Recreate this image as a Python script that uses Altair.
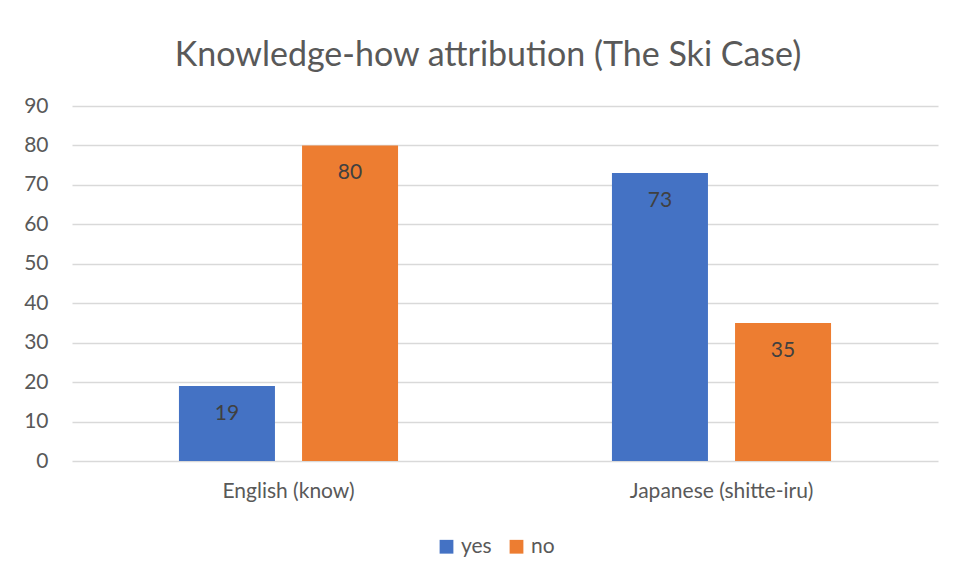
import altair as alt
import pandas as pd

categories = ["English (know)", "Japanese (shitte-iru)"]
answers = ["yes", "no"]
yes_values = [19, 73]
no_values = [80, 35]
y_ticks = [0, 10, 20, 30, 40, 50, 60, 70, 80, 90]

rows = []
for c, y, n in zip(categories, yes_values, no_values):
    rows.append({"lang": c, "answer": "yes", "value": y})
    rows.append({"lang": c, "answer": "no", "value": n})
df = pd.DataFrame(rows)

FONT = "Lato"
FS = 21

x = alt.X("lang:N", sort=categories, title=None,
          scale=alt.Scale(paddingInner=0.494, paddingOuter=0.247),
          axis=alt.Axis(labelAngle=0, ticks=False, domain=False, grid=False,
                        labelPadding=19, labelLimit=0,
                        labelFontSize=FS, labelColor="#595959", labelFont=FONT))
xo = alt.XOffset("answer:N", sort=answers,
                 scale=alt.Scale(paddingInner=0.22, paddingOuter=0))
y = alt.Y("value:Q", title=None,
          scale=alt.Scale(domain=[0, 90], nice=False),
          axis=alt.Axis(values=y_ticks, ticks=False, domain=False, labelPadding=24,
                        labelOverlap=False,
                        labelFontSize=FS, labelColor="#595959", labelFont=FONT,
                        gridColor="#d9d9d9", gridWidth=1.3))

bars = alt.Chart(df).mark_bar().encode(
    x=x, xOffset=xo, y=y,
    color=alt.Color("answer:N", sort=answers,
                    scale=alt.Scale(domain=answers, range=["#4472C4", "#ED7D31"]),
                    legend=alt.Legend(title=None, orient="none", direction="horizontal",
                                      legendX=364, legendY=430,
                                      symbolType="square", symbolSize=190,
                                      labelFontSize=FS, labelColor="#595959",
                                      labelFont=FONT, columnPadding=14,
                                      labelOffset=4)),
)

labels = alt.Chart(df).mark_text(baseline="middle", dy=28, fontSize=FS,
                                 color="#404040", font=FONT).encode(
    x=x, xOffset=xo, y=y, text=alt.Text("value:Q"),
)

chart = (bars + labels).properties(
    width=866, height=355,
    padding={"left": 15, "top": 31, "right": 10, "bottom": 5},
    view=alt.ViewBackground(strokeOpacity=0, strokeWidth=0),
    title=alt.TitleParams("Knowledge-how attribution (The Ski Case)",
                          fontSize=34, font=FONT, fontWeight="normal",
                          color="#595959", offset=22, anchor="middle", dx=-17),
).configure_view(strokeWidth=0, stroke="transparent").configure(background="white")

chart.save("out.html", embed_options={"renderer": "svg", "actions": False})
